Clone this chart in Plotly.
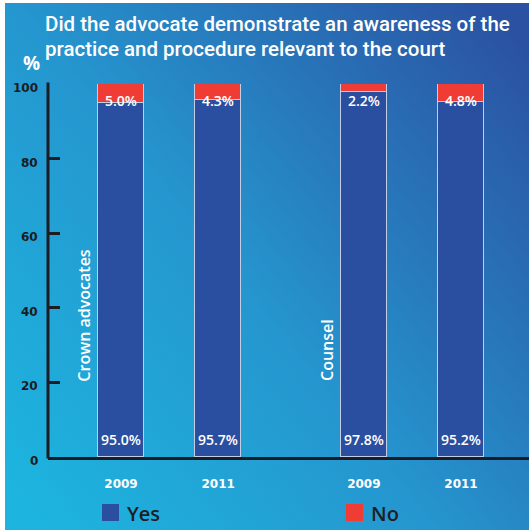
import base64
import plotly.graph_objects as go

# Survey answers per advocate type and year (percent)
groups = ["Crown advocates", "Crown advocates", "Counsel", "Counsel"]
years = ["2009", "2011", "2009", "2011"]
yes_pct = [95.0, 95.7, 97.8, 95.2]
no_pct = [5.0, 4.3, 2.2, 4.8]
group_labels = ["Crown advocates", "Counsel"]
y_ticks = [0, 20, 40, 60, 80, 100]

title_lines = [
    "Did the advocate demonstrate an awareness of the",
    "practice and procedure relevant to the court",
]

W, H = 529, 530
L, R, T, B = 48, 529, 84, 457  # plot area in pixels

BLUE = "#2a4fa1"
RED = "#ef3d35"
OUTLINE = "#c3cde3"
DARK = "#1e1e24"
AXIS = "#1c1c22"
FONT = "Open Sans"

# two bars per group, wider gap between groups
group_gap = 2.5
x_pos = []
for g, yr in zip(groups, years):
    gi = group_labels.index(g)
    yi = sorted(set(years)).index(yr)
    x_pos.append(gi * group_gap + yi)

x_range = [-0.7515, 4.2]
bar_w = 0.4735


def px_x(px):
    return (px - L) / (R - L)


def px_y(py):
    return (B - py) / (B - T)


# diagonal blue gradient backdrop as an inline SVG
svg = (
    '<svg xmlns="http://www.w3.org/2000/svg" width="524" height="527" '
    'preserveAspectRatio="none" viewBox="0 0 524 527">'
    '<defs><linearGradient id="g" x1="0" y1="0.9" x2="1" y2="0.1">'
    '<stop offset="0" stop-color="#1db4df"/>'
    '<stop offset="0.45" stop-color="#2596cf"/>'
    '<stop offset="1" stop-color="#2b52a2"/>'
    "</linearGradient></defs>"
    '<rect width="524" height="527" fill="url(#g)"/></svg>'
)
bg_src = "data:image/svg+xml;base64," + base64.b64encode(svg.encode()).decode()

fig = go.Figure()
fig.add_trace(go.Bar(
    x=x_pos, y=yes_pct, name="Yes", width=bar_w,
    marker=dict(color=BLUE, line=dict(color=OUTLINE, width=1)),
    showlegend=False,
))
fig.add_trace(go.Bar(
    x=x_pos, y=no_pct, name="No", width=bar_w,
    marker=dict(color=RED, line=dict(color=OUTLINE, width=1)),
    showlegend=False,
))

annotations = []
for xp, yv, nv in zip(x_pos, yes_pct, no_pct):
    annotations.append(dict(
        x=xp, y=4.6, xref="x", yref="y", text=f"{yv:.1f}%", showarrow=False,
        font=dict(family=FONT, size=14, color="white", weight=600),
        xanchor="center", yanchor="middle",
    ))
    annotations.append(dict(
        x=xp, y=95.7, xref="x", yref="y", text=f"{nv:.1f}%", showarrow=False,
        font=dict(family=FONT, size=14, color="white", weight=600),
        xanchor="center", yanchor="middle",
    ))

# group names written vertically beside each pair
for gi, name in enumerate(group_labels):
    annotations.append(dict(
        x=gi * group_gap - 0.381, y=19.8, xref="x", yref="y", text=name,
        showarrow=False, textangle=-90,
        font=dict(family=FONT, size=16, color="white", weight=600),
        xanchor="center", yanchor="bottom",
    ))

# title and unit
for i, line in enumerate(title_lines):
    annotations.append(dict(
        x=px_x(43), y=px_y(24 + 25 * i), xref="paper", yref="paper",
        text=line, showarrow=False, xanchor="left", yanchor="middle",
        font=dict(family="Roboto", size=20.5, color="white", weight=500),
    ))
annotations.append(dict(
    x=px_x(21), y=px_y(63), xref="paper", yref="paper", text="%",
    showarrow=False, xanchor="left", yanchor="middle",
    font=dict(family=FONT, size=19, color="white", weight=700),
))

# y tick labels sit slightly below their ticks
for v in y_ticks:
    annotations.append(dict(
        x=px_x(40), y=v, xref="paper", yref="y", text=str(v),
        showarrow=False, xanchor="right", yanchor="middle", yshift=-4,
        font=dict(family="DejaVu Sans", size=12, color=AXIS, weight=700),
    ))

shapes = [
    # vertical value axis
    dict(type="rect", xref="paper", yref="paper",
         x0=px_x(46.5), x1=px_x(49.5), y0=px_y(458.5), y1=px_y(82.5),
         fillcolor=AXIS, line=dict(width=0), layer="above"),
]
# legend drawn as swatches + labels
for label, color, sx in [("Yes", BLUE, 102), ("No", RED, 346)]:
    shapes.append(dict(
        type="rect", xref="paper", yref="paper",
        x0=px_x(sx), x1=px_x(sx + 17), y0=px_y(521), y1=px_y(504),
        fillcolor=color, line=dict(width=0),
    ))
    annotations.append(dict(
        x=px_x(sx + 23), y=px_y(513), xref="paper", yref="paper",
        text=label, showarrow=False, xanchor="left", yanchor="middle",
        font=dict(family=FONT, size=20, color=DARK, weight=600),
    ))

fig.update_layout(
    width=W, height=H,
    margin=dict(l=L, r=W - R, t=T, b=H - B, pad=0),
    paper_bgcolor="white",
    plot_bgcolor="rgba(0,0,0,0)",
    barmode="stack",
    bargap=0,
    images=[dict(
        source=bg_src, xref="paper", yref="paper",
        x=px_x(5), y=px_y(3), sizex=(W - 5) / (R - L), sizey=(H - 3) / (B - T),
        xanchor="left", yanchor="top", sizing="stretch", layer="below",
    )],
    annotations=annotations,
    shapes=shapes,
    xaxis=dict(
        range=x_range, showgrid=False, zeroline=False,
        showline=True, linecolor=AXIS, linewidth=3,
        tickmode="array", tickvals=x_pos, ticktext=years,
        ticks="outside", ticklen=14, tickcolor="rgba(0,0,0,0)",
        tickfont=dict(family="DejaVu Sans", size=12, color="white", weight=700),
        fixedrange=True,
    ),
    yaxis=dict(
        range=[0, 100], showgrid=False, zeroline=False,
        showline=False, showticklabels=False,
        tickmode="array", tickvals=y_ticks,
        ticks="inside", ticklen=12, tickwidth=3, tickcolor=AXIS,
        fixedrange=True,
    ),
)

fig.write_html("out.html")
